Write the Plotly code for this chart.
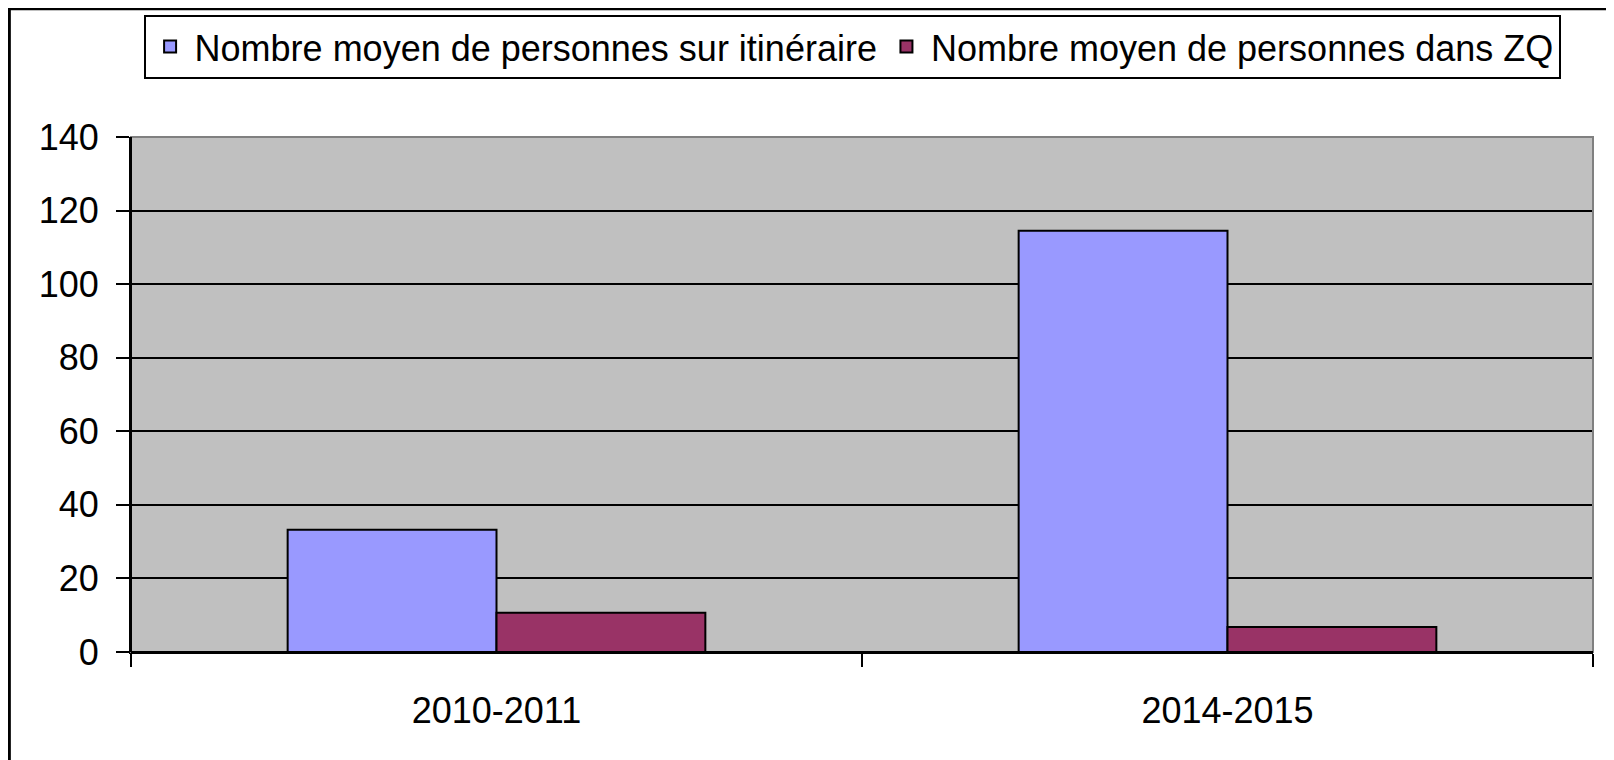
import plotly.graph_objects as go

categories = ["2010-2011", "2014-2015"]
itineraire = [33.2, 114.5]
zq = [10.7, 6.8]
series_names = ["Nombre moyen de personnes sur itinéraire", "Nombre moyen de personnes dans ZQ"]
y_ticks = [0, 20, 40, 60, 80, 100, 120, 140]

# The page body has an 8px margin, so the figure is shifted by OFF.
OFF = 8
PAGE_W, PAGE_H = 1614, 760
W, H = PAGE_W - OFF, PAGE_H - OFF

# target plot area in page pixels
PL, PR, PT, PB = 130.7, 1593.3, 137.2, 651.7
L, R = PL - OFF, W - (PR - OFF)
T, B = PT - OFF, H - (PB - OFF)
pw, ph = W - L - R, H - T - B

def px_x(x):
    return (x - OFF - L) / pw

def px_y(y):
    return (H - B - (y - OFF)) / ph

FONT = "Liberation Sans, Arial, sans-serif"
FS = 36

fig = go.Figure()
fig.add_trace(go.Bar(x=categories, y=itineraire, name=series_names[0],
                     marker=dict(color="#9999FF", line=dict(color="black", width=2))))
fig.add_trace(go.Bar(x=categories, y=zq, name=series_names[1],
                     marker=dict(color="#993366", line=dict(color="black", width=2))))

fig.update_layout(
    width=W, height=H,
    margin=dict(l=L, r=R, t=T, b=B, autoexpand=False),
    paper_bgcolor="white",
    plot_bgcolor="#C0C0C0",
    barmode="group",
    bargap=0.4286,
    bargroupgap=0,
    font=dict(family=FONT, size=FS, color="black"),
    showlegend=True,
    legend=dict(orientation="h", x=px_x(143.3), y=px_y(15), xanchor="left", yanchor="top",
                bgcolor="white", bordercolor="black", borderwidth=2,
                font=dict(family=FONT, size=FS, color="black"),
                itemwidth=39, traceorder="normal"),
    xaxis=dict(type="category", tickson="boundaries", ticks="outside", ticklen=13,
               tickwidth=2, tickcolor="black", showline=True, linecolor="black", linewidth=2,
               showgrid=False, tickfont=dict(family=FONT, size=FS, color="black"),
               ticklabelstandoff=26),
    yaxis=dict(range=[0, 140], tickvals=y_ticks, ticks="outside", ticklen=13, tickwidth=2,
               tickcolor="black", showline=True, linecolor="black", linewidth=2,
               showgrid=True, gridcolor="black", gridwidth=2, zeroline=False,
               tickfont=dict(family=FONT, size=FS, color="black"), ticklabelstandoff=10),
    shapes=[
        dict(type="rect", xref="paper", yref="paper", x0=0, x1=1, y0=0, y1=1,
             line=dict(color="#808080", width=2), fillcolor="rgba(0,0,0,0)", layer="above"),
        dict(type="line", xref="paper", yref="paper", x0=0, x1=0, y0=0, y1=1,
             line=dict(color="black", width=2), layer="above"),
        dict(type="line", xref="paper", yref="paper", x0=0, x1=1, y0=0, y1=0,
             line=dict(color="black", width=2), layer="above"),
        dict(type="rect", xref="paper", yref="paper", x0=px_x(9), x1=px_x(1612.5),
             y0=px_y(800), y1=px_y(9), line=dict(color="black", width=3),
             fillcolor="rgba(0,0,0,0)", layer="above"),
    ],
)

fig.write_html("out.html")
